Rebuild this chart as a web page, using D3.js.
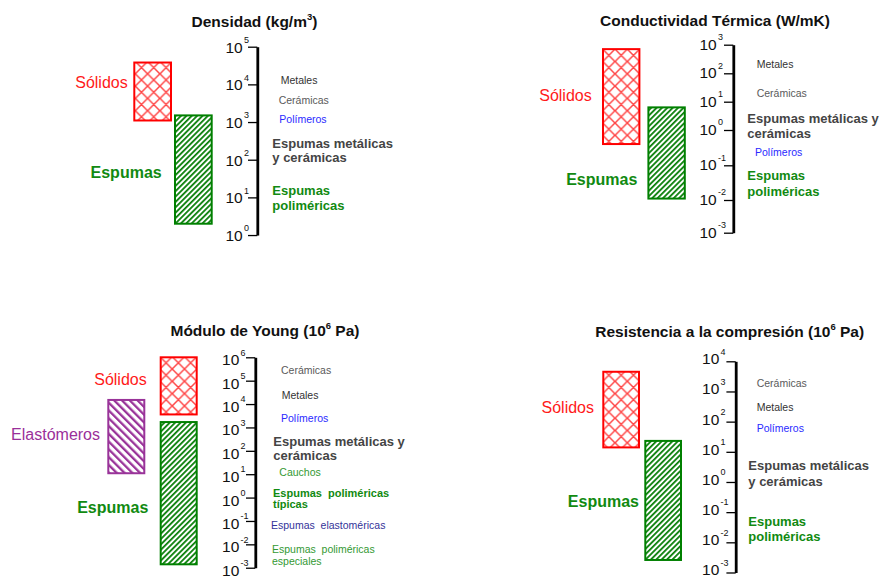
<!DOCTYPE html>
<html>
<head>
<meta charset="utf-8">
<script src="https://cdn.jsdelivr.net/npm/d3@7"></script>
<style>
  html, body { margin: 0; padding: 0; background: #fff; }
  svg { display: block; }
  text { font-family: "Liberation Sans", Arial, Helvetica, sans-serif; white-space: pre; }
</style>
</head>
<body>
<svg id="chart" width="881" height="578"></svg>
<script>
// ---------- Densidad (kg/m3) ----------
const densCats = ["Sólidos", "Espumas"];
const densMin = [1100, 2];
const densMax = [38000, 1500];
const densExps = [0, 1, 2, 3, 4, 5];
const densNotes = [["Metales"], ["Cerámicas"], ["Polímeros"], ["Espumas metálicas", "y cerámicas"], ["Espumas", "poliméricas"]];

// ---------- Conductividad térmica (W/mK) ----------
const condCats = ["Sólidos", "Espumas"];
const condMin = [0.4, 0.011];
const condMax = [700, 6.3];
const condExps = [-3, -2, -1, 0, 1, 2, 3];
const condNotes = [["Metales"], ["Cerámicas"], ["Espumas metálicas y", "cerámicas"], ["Polímeros"], ["Espumas", "poliméricas"]];

// ---------- Módulo de Young (10^6 Pa) ----------
const youngCats = ["Sólidos", "Elastómeros", "Espumas"];
const youngMin = [3600, 11, 0.0014];
const youngMax = [1000000, 15000, 1700];
const youngExps = [-3, -2, -1, 0, 1, 2, 3, 4, 5, 6];
const youngNotes = [["Cerámicas"], ["Metales"], ["Polímeros"], ["Espumas metálicas y", "cerámicas"], ["Cauchos"],
  ["Espumas  poliméricas", "típicas"], ["Espumas  elastoméricas"], ["Espumas  poliméricas", "especiales"]];

// ---------- Resistencia a la compresión (10^6 Pa) ----------
const compCats = ["Sólidos", "Espumas"];
const compMin = [14, 0.0026];
const compMax = [4500, 23];
const compExps = [-3, -2, -1, 0, 1, 2, 3, 4];
const compNotes = [["Cerámicas"], ["Metales"], ["Polímeros"], ["Espumas metálicas", "y cerámicas"], ["Espumas", "poliméricas"]];

// ---------- styles ----------
const catStyle = {
  "Sólidos":     { stroke: "#ff0000", fill: "url(#cross)",  text: "#ff1a1a", weight: "normal" },
  "Espumas":     { stroke: "#008000", fill: "url(#stripeR)", text: "#118a11", weight: "bold" },
  "Elastómeros": { stroke: "#993399", fill: "url(#stripeL)", text: "#9a2f9a", weight: "normal" }
};
const noteStyles = {
  metal:     { color: "#333333", size: 10.5, weight: "normal" },
  ceramic:   { color: "#5a5a5a", size: 10.5, weight: "normal" },
  polymer:   { color: "#2a2aff", size: 10.5, weight: "normal" },
  foamMC:    { color: "#444444", size: 13,   weight: "bold" },
  foamP:     { color: "#118a11", size: 13,   weight: "bold" },
  rubber:    { color: "#339933", size: 10.5, weight: "normal" },
  foamPtyp:  { color: "#118a11", size: 11,   weight: "bold" },
  foamE:     { color: "#333399", size: 10.5, weight: "normal" },
  foamPspec: { color: "#339933", size: 10.5, weight: "normal" }
};

const uniform = (h, n) => Array.from({ length: n }, () => h);

const panels = [
  {
    title: ["Densidad (kg/m", "3", ")"], titleX: 254.5, titleY: 27.3,
    cats: densCats, lo: densMin, hi: densMax, exps: densExps, notes: densNotes,
    axisX: 257.3, top: 46.7, decades: uniform(37.67, 5), tickDy: 6, tickLx: -14.6,
    col: { "Sólidos": "a", "Espumas": "b" }, colX: 134.3, colW: 36.7, colGap: 4,
    labelDx: { "Sólidos": -129.6, "Espumas": -95.6 }, labelAt: { "Sólidos": 3.90, "Espumas": 1.51 },
    noteStyle: ["metal", "ceramic", "polymer", "foamMC", "foamP"],
    noteDx: [23.4, 21.4, 22, 15, 15], noteAt: [4.0, 3.48, 2.98, 2.32, 1.06], noteLh: [0, 0, 0, 14.6, 15]
  },
  {
    title: ["Conductividad Térmica (W/mK)", "", ""], titleX: 715, titleY: 26,
    cats: condCats, lo: condMin, hi: condMax, exps: condExps, notes: condNotes,
    axisX: 733.3, top: 44.7, decades: [28.6, 28.4, 28.3, 35.3, 34.7, 32.7], tickDy: 5, tickLx: -16.6,
    col: { "Sólidos": "a", "Espumas": "b" }, colX: 603, colW: 36.4, colGap: 9,
    labelDx: { "Sólidos": -141.6, "Espumas": -96 }, labelAt: { "Sólidos": 1.035, "Espumas": -1.568 },
    noteStyle: ["metal", "ceramic", "foamMC", "polymer", "foamP"],
    noteDx: [23.4, 23.4, 14, 21.7, 14], noteAt: [2.175, 1.176, 0.258, -0.728, -1.424], noteLh: [0, 0, 15.6, 0, 16]
  },
  {
    title: ["Módulo de Young (10", "6", " Pa)"], titleX: 265, titleY: 336,
    cats: youngCats, lo: youngMin, hi: youngMax, exps: youngExps, notes: youngNotes,
    axisX: 255.3, top: 357.3, decades: uniform(23.38, 9), tickDy: 8, tickLx: -16,
    col: { "Elastómeros": "a", "Sólidos": "b", "Espumas": "b" }, colX: 108.3, colW: 36, colGap: 16.4,
    labelDx: { "Sólidos": -108.6, "Elastómeros": -155.3, "Espumas": -107 },
    labelAt: { "Sólidos": 4.815, "Elastómeros": 2.46, "Espumas": -0.672 },
    noteStyle: ["ceramic", "metal", "polymer", "foamMC", "rubber", "foamPtyp", "foamE", "foamPspec"],
    noteDx: [25.7, 26.4, 25.7, 18, 24, 17.7, 15.7, 16.7],
    noteAt: [5.27, 4.22, 3.25, 2.21, 0.92, 0.04, -1.36, -2.36],
    noteLh: [0, 0, 0, 14, 0, 11.6, 0, 12.3]
  },
  {
    title: ["Resistencia a la compresión (10", "6", " Pa)"], titleX: 729.7, titleY: 337.3,
    cats: compCats, lo: compMin, hi: compMax, exps: compExps, notes: compNotes,
    axisX: 735.7, top: 361.3, decades: uniform(30.17, 7), tickDy: 3, tickLx: -16.4,
    col: { "Sólidos": "a", "Espumas": "b" }, colX: 603.3, colW: 35.7, colGap: 6.3,
    labelDx: { "Sólidos": -141.7, "Espumas": -96.7 }, labelAt: { "Sólidos": 2.276, "Espumas": -0.819 },
    noteStyle: ["ceramic", "metal", "polymer", "foamMC", "foamP"],
    noteDx: [21, 21, 21, 12.6, 12.6], noteAt: [3.16, 2.35, 1.67, 0.40, -1.46], noteLh: [0, 0, 0, 16, 15]
  }
];

const svg = d3.select("#chart");
svg.append("rect").attr("width", 881).attr("height", 578).attr("fill", "#fff");

// ---------- hatch patterns ----------
const defs = svg.append("defs");
const cross = defs.append("pattern").attr("id", "cross")
  .attr("patternUnits", "userSpaceOnUse").attr("width", 12.3).attr("height", 12.3);
cross.append("rect").attr("width", 12.3).attr("height", 12.3).attr("fill", "#fff");
cross.append("path").attr("d", "M0,0L12.3,12.3M0,12.3L12.3,0M-2,2L2,-2M10.3,14.3L14.3,10.3M-2,10.3L2,14.3M10.3,-2L14.3,2")
  .attr("stroke", "#ff4444").attr("stroke-width", 1.5).attr("fill", "none");

const stripeR = defs.append("pattern").attr("id", "stripeR")
  .attr("patternUnits", "userSpaceOnUse").attr("width", 3.8).attr("height", 10)
  .attr("patternTransform", "rotate(45)");
stripeR.append("rect").attr("width", 3.8).attr("height", 10).attr("fill", "#fff");
stripeR.append("rect").attr("width", 1.8).attr("height", 10).attr("fill", "#0b800b");

const stripeL = defs.append("pattern").attr("id", "stripeL")
  .attr("patternUnits", "userSpaceOnUse").attr("width", 5.5).attr("height", 10)
  .attr("patternTransform", "rotate(-45)");
stripeL.append("rect").attr("width", 5.5).attr("height", 10).attr("fill", "#fff");
stripeL.append("rect").attr("width", 2.3).attr("height", 10).attr("fill", "#993399");

// ---------- panels ----------
panels.forEach(p => {
  const g = svg.append("g");

  // log axis built decade by decade
  const expsDesc = p.exps.slice().sort((a, b) => b - a);
  const rangeY = [p.top];
  p.decades.forEach(h => rangeY.push(rangeY[rangeY.length - 1] + h));
  const y = d3.scaleLog().domain(expsDesc.map(e => Math.pow(10, e))).range(rangeY);

  // columns for the bars
  const colKeys = Array.from(new Set(p.cats.map(c => p.col[c]))).sort();
  const x = d3.scaleBand().domain(colKeys)
    .range([p.colX, p.colX + colKeys.length * p.colW + (colKeys.length - 1) * p.colGap])
    .paddingInner(p.colGap / (p.colW + p.colGap)).paddingOuter(0);

  // title
  const t = g.append("text").attr("x", p.titleX).attr("y", p.titleY)
    .attr("text-anchor", "middle").attr("font-size", 15.5).attr("font-weight", "bold").attr("fill", "#111");
  t.append("tspan").text(p.title[0]);
  if (p.title[1]) {
    t.append("tspan").attr("dy", -7).attr("font-size", 9.5).text(p.title[1]);
    t.append("tspan").attr("dy", 7).text(p.title[2]);
  }

  // bars
  p.cats.forEach((c, i) => {
    const s = catStyle[c];
    g.append("rect")
      .attr("x", x(p.col[c])).attr("width", x.bandwidth())
      .attr("y", y(p.hi[i])).attr("height", y(p.lo[i]) - y(p.hi[i]))
      .attr("fill", s.fill).attr("stroke", s.stroke).attr("stroke-width", 2);
    g.append("text")
      .attr("x", p.axisX + p.labelDx[c]).attr("y", y(Math.pow(10, p.labelAt[c])))
      .attr("text-anchor", "end").attr("font-size", 16).attr("font-weight", s.weight)
      .attr("fill", s.text).text(c);
  });

  // axis
  const axis = d3.axisLeft(y).tickValues(p.exps.map(e => Math.pow(10, e)))
    .tickSize(9.3).tickSizeOuter(0).tickFormat("");
  const ag = g.append("g").attr("transform", `translate(${p.axisX},0)`).call(axis);
  ag.select(".domain").attr("stroke", "#000").attr("stroke-width", 2.8);
  ag.selectAll(".tick line").attr("stroke", "#000").attr("stroke-width", 1.3);

  // power-of-ten tick labels
  p.exps.forEach(e => {
    const by = y(Math.pow(10, e)) + p.tickDy;
    g.append("text").attr("x", p.axisX + p.tickLx).attr("y", by)
      .attr("text-anchor", "end").attr("font-size", 15.5).attr("fill", "#111").text("10");
    g.append("text").attr("x", p.axisX + p.tickLx + 1.2).attr("y", by - 9.8)
      .attr("font-size", 9).attr("fill", "#111").text(String(e));
  });

  // material notes beside the axis
  p.notes.forEach((lines, i) => {
    const st = noteStyles[p.noteStyle[i]];
    const tx = g.append("text").attr("x", p.axisX + p.noteDx[i]).attr("y", y(Math.pow(10, p.noteAt[i])))
      .attr("font-size", st.size).attr("font-weight", st.weight).attr("fill", st.color);
    lines.forEach((ln, k) => {
      tx.append("tspan").attr("x", p.axisX + p.noteDx[i]).attr("dy", k === 0 ? 0 : p.noteLh[i]).text(ln);
    });
  });
});
</script>
</body>
</html>
